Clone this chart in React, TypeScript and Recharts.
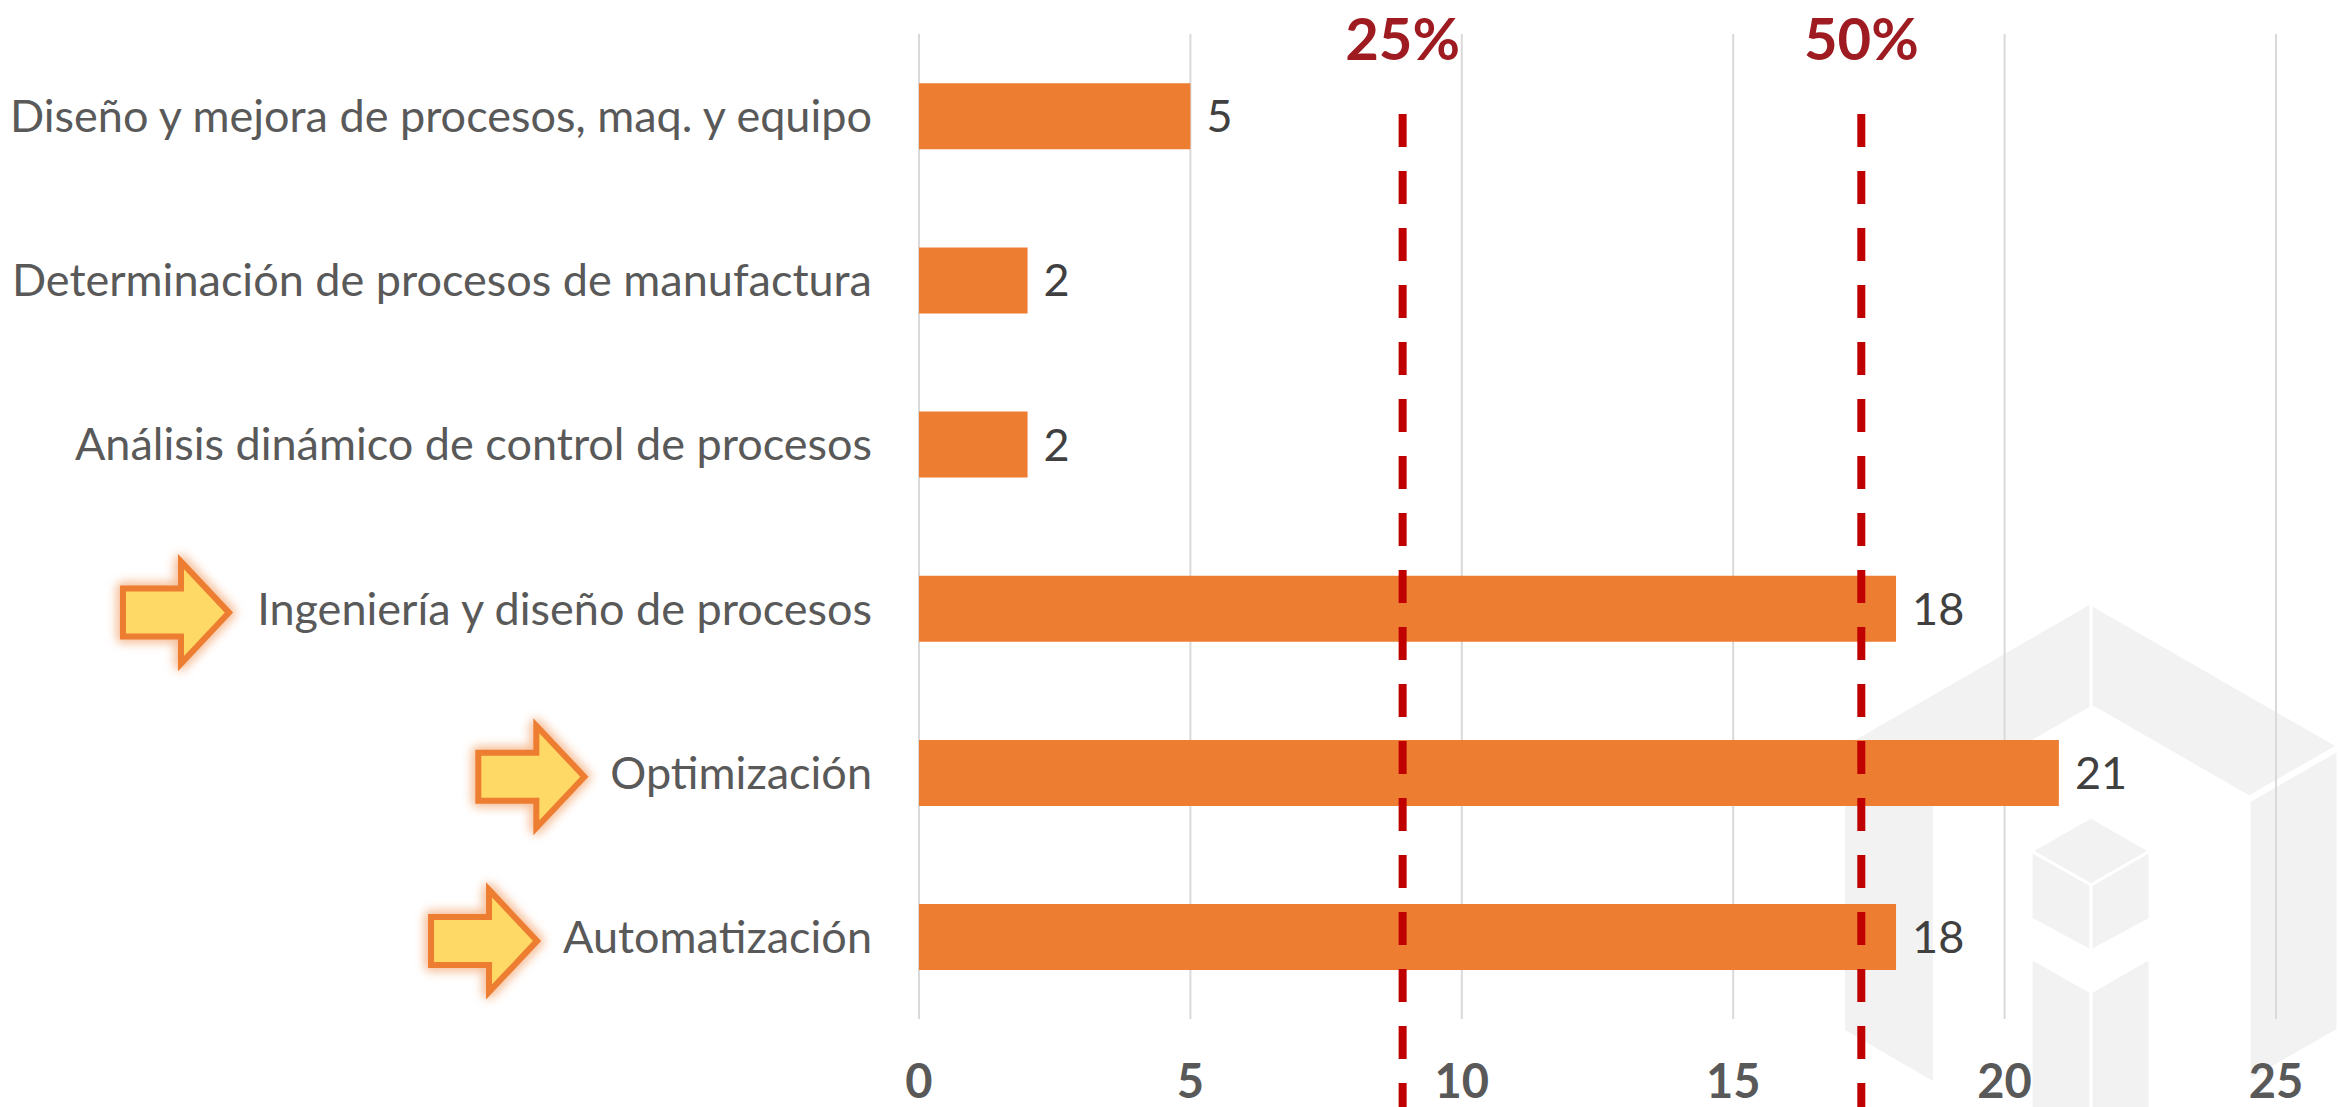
import React from 'react'
import {
  BarChart,
  Bar,
  XAxis,
  YAxis,
  CartesianGrid,
  ReferenceLine,
  LabelList,
} from 'recharts'

const categories = [
  'Diseño y mejora de procesos, maq. y equipo',
  'Determinación de procesos de manufactura',
  'Análisis dinámico de control de procesos',
  'Ingeniería y diseño de procesos',
  'Optimización',
  'Automatización',
]
const counts = [5, 2, 2, 18, 21, 18]
const highlighted = [false, false, false, true, true, true]
const xTicks = [0, 5, 10, 15, 20, 25]
const thresholdValues = [8.91, 17.36]
const thresholdLabels = ['25%', '50%']

const data = categories.map((name, i) => ({ name, count: counts[i], highlight: highlighted[i] }))

const W = 2340
const H = 1107
const FONT = 'Lato, "Open Sans", sans-serif'
const LABEL_SIZE = 45

let ctx: CanvasRenderingContext2D | null = null
function textWidth(text: string, font: string) {
  if (!ctx) ctx = document.createElement('canvas').getContext('2d')
  if (!ctx) return text.length * 20
  ctx.font = font
  return ctx.measureText(text).width
}

function Arrow({ tipX, cy, id }: { tipX: number; cy: number; id: string }) {
  const pts = [
    [tipX - 106, cy - 24],
    [tipX - 48, cy - 24],
    [tipX - 48, cy - 51],
    [tipX, cy],
    [tipX - 48, cy + 51],
    [tipX - 48, cy + 24],
    [tipX - 106, cy + 24],
  ]
    .map((p) => p.join(','))
    .join(' ')
  return (
    <g>
      <defs>
        <filter id={id} x="-30%" y="-30%" width="160%" height="160%">
          <feGaussianBlur stdDeviation="5" />
        </filter>
      </defs>
      <polygon points={pts} fill="none" stroke="#F4B183" strokeWidth={14} strokeLinejoin="round" filter={`url(#${id})`} opacity={0.8} />
      <polygon points={pts} fill="#FFD966" stroke="#ED7D31" strokeWidth={6} />
    </g>
  )
}

// eslint-disable-next-line @typescript-eslint/no-explicit-any
function CategoryTick(props: any) {
  const { x, y, payload, index } = props
  const label: string = payload.value
  const right = x - 47
  const row = data.find((d) => d.name === label)
  const w = textWidth(label, `${LABEL_SIZE}px Lato`)
  return (
    <g>
      {row?.highlight && <Arrow tipX={right - w - 26} cy={y + 4} id={`glow-${index}`} />}
      <text x={right} y={y} dy={16} textAnchor="end" fill="#595959" fontSize={LABEL_SIZE} fontFamily={FONT}>
        {label}
      </text>
    </g>
  )
}

// eslint-disable-next-line @typescript-eslint/no-explicit-any
function ValueTick(props: any) {
  const { x, y, payload } = props
  return (
    <text x={x} y={y + 79} textAnchor="middle" fill="#595959" fontSize={47} fontWeight={700} fontFamily={FONT}>
      {payload.value}
    </text>
  )
}

function thresholdShape(label: string) {
  // eslint-disable-next-line @typescript-eslint/no-explicit-any
  return (props: any) => {
    const { x1 } = props
    return (
      <g>
        <line x1={x1} x2={x1} y1={114} y2={H} stroke="#C00000" strokeWidth={8} strokeDasharray="33 24" />
        <text x={x1} y={60} textAnchor="middle" fill="#9E1C21" fontSize={58} fontWeight={700} fontFamily={FONT}>
          {label}
        </text>
      </g>
    )
  }
}

function Watermark() {
  const fill = '#F2F2F2'
  const sep = { stroke: '#ffffff', strokeWidth: 3 }
  return (
    <svg width={W} height={H} style={{ position: 'absolute', left: 0, top: 0 }}>
      <polygon points="1845,746 2091,604 2091,706 1933,797 1933,1081 1845,1030" fill={fill} />
      <polygon points="2091,604 2338,746 2249,797 2091,706" fill={fill} {...sep} />
      <polygon points="2338,750 2338,1030 2249,1081 2249,801" fill={fill} {...sep} />
      <polygon points="2091,817 2150,851 2091,885 2031,851" fill={fill} {...sep} />
      <polygon points="2031,851 2091,885 2091,951 2031,919" fill={fill} {...sep} />
      <polygon points="2150,851 2150,919 2091,951 2091,885" fill={fill} {...sep} />
      <polygon points="2031,958 2091,992 2091,1110 2031,1110" fill={fill} {...sep} />
      <polygon points="2150,958 2150,1110 2091,1110 2091,992" fill={fill} {...sep} />
    </svg>
  )
}

export default function App() {
  return (
    <div style={{ position: 'absolute', left: 0, top: 0, width: W, height: H, background: '#ffffff' }}>
      <Watermark />
      <div style={{ position: 'absolute', left: 0, top: 0 }}>
        <BarChart
          width={W}
          height={H}
          data={data}
          layout="vertical"
          margin={{ top: 34, right: 64, left: 0, bottom: 0 }}
          barCategoryGap="30%"
        >
          <CartesianGrid horizontal={false} stroke="#D9D9D9" strokeWidth={2} />
          <XAxis
            type="number"
            domain={[0, 25]}
            ticks={xTicks}
            axisLine={false}
            tickLine={false}
            tickSize={0}
            tickMargin={0}
            height={88}
            tick={<ValueTick />}
            interval={0}
          />
          <YAxis
            type="category"
            dataKey="name"
            width={919}
            axisLine={false}
            tickLine={false}
            tickSize={0}
            tickMargin={0}
            tick={<CategoryTick />}
            interval={0}
          />
          <Bar dataKey="count" fill="#ED7D31" isAnimationActive={false}>
            <LabelList dataKey="count" position="right" offset={16} fill="#404040" fontSize={LABEL_SIZE} fontFamily={FONT} />
          </Bar>
          {thresholdValues.map((v, i) => (
            <ReferenceLine key={thresholdLabels[i]} x={v} shape={thresholdShape(thresholdLabels[i])} />
          ))}
        </BarChart>
      </div>
    </div>
  )
}
